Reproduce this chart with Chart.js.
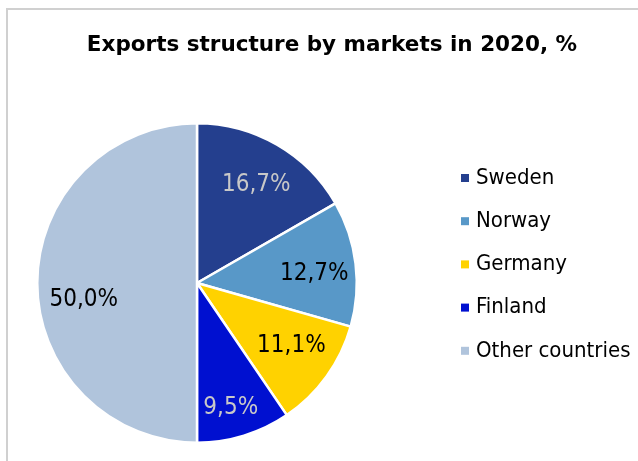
<!DOCTYPE html>
<html>
<head>
<meta charset="utf-8">
<script src="https://cdn.jsdelivr.net/npm/chart.js@4"></script>
<style>
  html, body { margin: 0; padding: 0; background: #fff; }
  #wrap { width: 638px; height: 461px; position: relative; }
</style>
</head>
<body>
<div id="wrap"><canvas id="chart"></canvas></div>
<script>
const markets = ["Sweden", "Norway", "Germany", "Finland", "Other countries"];
const shares = [16.7, 12.7, 11.1, 9.5, 50.0];
const sliceColors = ["#243f8e", "#5898c8", "#ffd200", "#0010d0", "#b0c4dc"];
const labelColors = ["#c8c8c8", "#000000", "#000000", "#c8c8c8", "#000000"];
const chartTitle = "Exports structure by markets in 2020, %";

const FONT = "'DejaVu Sans Condensed', 'DejaVu Sans', sans-serif";
// small nudges so the slice labels sit where Excel put them
const labelNudge = [[0, 4], [0, 5], [-1.5, -6], [-1, 11.5], [5, 17]];

// frame, title, legend and slice labels
const decor = {
  id: "decor",
  beforeDraw(chart) {
    const ctx = chart.ctx;
    ctx.save();
    ctx.strokeStyle = "#d0d0d0";
    ctx.lineWidth = 2;
    ctx.beginPath();
    ctx.moveTo(7, 461);
    ctx.lineTo(7, 9);
    ctx.lineTo(638, 9);
    ctx.stroke();
    ctx.restore();
  },
  afterDraw(chart) {
    const ctx = chart.ctx;
    ctx.save();
    ctx.fillStyle = "#000";
    ctx.font = "bold 21.5px 'DejaVu Sans', sans-serif";
    ctx.textAlign = "center";
    ctx.textBaseline = "middle";
    ctx.fillText(chartTitle, 332, 45);

    // legend
    ctx.font = "22px " + FONT;
    ctx.textAlign = "left";
    markets.forEach((m, i) => {
      const y = 178 + i * 43.2;
      ctx.fillStyle = sliceColors[i];
      ctx.fillRect(461, y - 4, 8, 8);
      ctx.fillStyle = "#000";
      ctx.fillText(m, 476, y);
    });

    // slice labels
    const meta = chart.getDatasetMeta(0);
    ctx.font = "24px " + FONT;
    ctx.textAlign = "center";
    meta.data.forEach((arc, i) => {
      const p = arc.getProps(["x", "y", "startAngle", "endAngle", "outerRadius"], true);
      const mid = (p.startAngle + p.endAngle) / 2;
      const r = p.outerRadius * 0.74;
      ctx.fillStyle = labelColors[i];
      const txt = shares[i].toFixed(1).replace(".", ",") + "%";
      ctx.fillText(txt, p.x + Math.cos(mid) * r + labelNudge[i][0], p.y + Math.sin(mid) * r + labelNudge[i][1]);
    });
    ctx.restore();
  }
};

new Chart(document.getElementById("chart"), {
  type: "pie",
  data: {
    labels: markets,
    datasets: [{
      data: shares,
      backgroundColor: sliceColors,
      borderColor: "#ffffff",
      borderWidth: 2.5
    }]
  },
  options: {
    responsive: true,
    maintainAspectRatio: false,
    animation: false,
    layout: { padding: { left: 36, right: 280, top: 122, bottom: 17 } },
    plugins: {
      legend: { display: false },
      title: { display: false },
      tooltip: { enabled: false }
    }
  },
  plugins: [decor]
});
</script>
</body>
</html>
